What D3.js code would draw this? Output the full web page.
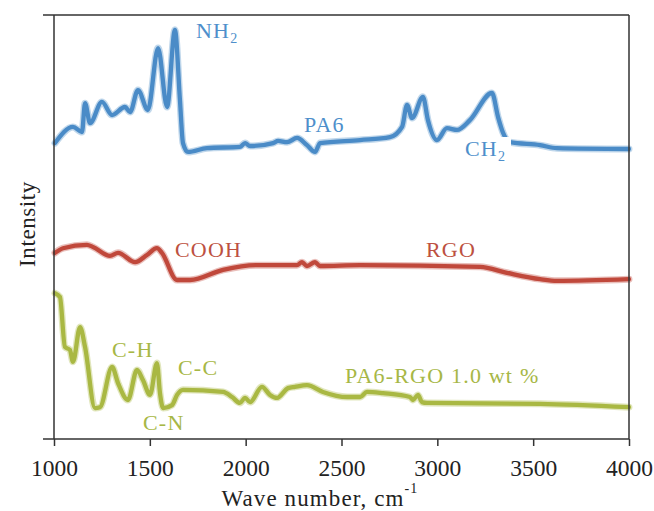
<!DOCTYPE html>
<html>
<head>
<meta charset="utf-8">
<script src="https://cdn.jsdelivr.net/npm/d3@7"></script>
<style>
  html, body { margin: 0; padding: 0; background: #ffffff; }
  svg { display: block; }
  text { font-family: "Liberation Serif", "Times New Roman", serif; }
</style>
</head>
<body>
<svg id="chart" width="654" height="511"></svg>
<script>
// FTIR spectra: wave number (cm^-1) and relative intensity (a.u., offset per trace)
const pa6Wave = [1005, 1099, 1146, 1162, 1188, 1250, 1303, 1370, 1397, 1438, 1490, 1543, 1590, 1631, 1657, 1673, 1699, 1798, 1970, 1997, 2023, 2143, 2169, 2216, 2268, 2320, 2362, 2388, 2597, 2753, 2816, 2842, 2868, 2925, 2951, 2998, 3050, 3103, 3170, 3285, 3317, 3343, 3379, 3536, 3624, 4000];
const pa6Intensity = [69.8, 73.6, 72.4, 79.2, 74.5, 79.5, 76.4, 78.3, 77.1, 82.3, 77.6, 92.2, 78.3, 96.5, 80.0, 69.8, 67.7, 68.6, 68.9, 69.8, 69.1, 69.8, 70.3, 70.0, 71.0, 69.3, 67.7, 69.8, 70.5, 71.2, 73.6, 78.8, 75.7, 80.7, 75.2, 70.5, 73.3, 72.9, 75.2, 81.6, 75.9, 72.2, 70.0, 69.3, 68.6, 68.4];

const rgoWave = [1005, 1047, 1172, 1203, 1292, 1334, 1423, 1485, 1537, 1563, 1642, 1710, 1882, 2059, 2268, 2294, 2320, 2362, 2388, 2597, 3223, 3363, 3536, 3624, 4000];
const rgoIntensity = [43.9, 45.0, 45.8, 45.3, 43.2, 43.9, 41.7, 43.4, 45.0, 43.9, 37.5, 37.5, 39.9, 41.0, 41.0, 41.7, 40.8, 41.7, 40.8, 41.0, 40.6, 39.2, 37.7, 37.3, 37.7];

const compositeWave = [1005, 1031, 1057, 1083, 1099, 1136, 1162, 1214, 1240, 1303, 1334, 1386, 1433, 1464, 1501, 1537, 1553, 1569, 1616, 1642, 1673, 1882, 1929, 1970, 1997, 2023, 2085, 2127, 2164, 2221, 2257, 2320, 2403, 2529, 2597, 2633, 2717, 2857, 2873, 2899, 2920, 2946, 3536, 4000];
const compositeIntensity = [34.4, 33.5, 21.7, 21.0, 18.2, 26.4, 21.7, 7.3, 7.5, 17.0, 13.2, 9.2, 16.3, 13.9, 10.4, 17.9, 10.8, 7.3, 8.0, 10.4, 11.6, 11.1, 9.9, 8.5, 9.7, 8.7, 12.3, 10.4, 9.7, 12.0, 12.3, 12.7, 11.1, 9.9, 9.9, 11.1, 10.8, 9.9, 9.2, 10.4, 8.7, 8.5, 8.3, 7.5];

const xTicks = [1000, 1500, 2000, 2500, 3000, 3500, 4000];

const svg = d3.select("#chart");
const plot = { left: 54, right: 629, top: 15, bottom: 439 };

const x = d3.scaleLinear().domain([1000, 4000]).range([plot.left, plot.right]);
const y = d3.scaleLinear().domain([0, 100]).range([plot.bottom, plot.top]);

const series = [
  { wave: pa6Wave, val: pa6Intensity, color: "#4a8bc7" },
  { wave: rgoWave, val: rgoIntensity, color: "#c0483b" },
  { wave: compositeWave, val: compositeIntensity, color: "#a9b843" }
];

const line = d3.line()
  .x(d => x(d[0]))
  .y(d => y(d[1]))
  .curve(d3.curveMonotoneX);

// Traces: soft halo under a solid core
series.forEach(s => {
  const pts = s.wave.map((w, i) => [w, s.val[i]]);
  svg.append("path")
    .attr("d", line(pts))
    .attr("fill", "none")
    .attr("stroke", s.color)
    .attr("stroke-opacity", 0.35)
    .attr("stroke-width", 7)
    .attr("stroke-linejoin", "round")
    .attr("stroke-linecap", "round");
  svg.append("path")
    .attr("d", line(pts))
    .attr("fill", "none")
    .attr("stroke", s.color)
    .attr("stroke-width", 4.3)
    .attr("stroke-linejoin", "round")
    .attr("stroke-linecap", "round");
});

// Frame and axes
const axisColor = "#333333";
svg.append("line").attr("x1", plot.left - 11).attr("x2", plot.right).attr("y1", plot.top).attr("y2", plot.top)
  .attr("stroke", axisColor).attr("stroke-width", 1.5);
svg.append("line").attr("x1", plot.right).attr("x2", plot.right).attr("y1", plot.top).attr("y2", plot.bottom)
  .attr("stroke", axisColor).attr("stroke-width", 1.5);

const xAxis = svg.append("g")
  .attr("transform", `translate(0,${plot.bottom})`)
  .call(d3.axisBottom(x).tickValues(xTicks).tickFormat(d3.format("d")).tickSize(7).tickSizeOuter(0));
xAxis.select(".domain").remove();
xAxis.append("line").attr("x1", plot.left - 11).attr("x2", plot.right).attr("y1", 0).attr("y2", 0)
  .attr("stroke", axisColor).attr("stroke-width", 1.5);
xAxis.selectAll(".tick line").attr("stroke", axisColor).attr("stroke-width", 1.5);
xAxis.selectAll(".tick text")
  .attr("y", 37).attr("dy", 0)
  .attr("fill", "#222222")
  .style("font-family", "'Liberation Serif', serif")
  .style("font-size", "23.5px");

svg.append("line").attr("x1", plot.left).attr("x2", plot.left).attr("y1", plot.top).attr("y2", plot.bottom)
  .attr("stroke", axisColor).attr("stroke-width", 1.5);

// Axis titles
const xTitle = svg.append("text")
  .attr("x", 320).attr("y", 506)
  .attr("text-anchor", "middle")
  .attr("fill", "#222222")
  .style("font-size", "23px")
  .style("letter-spacing", "1.1px");
xTitle.append("tspan").text("Wave number, cm");
xTitle.append("tspan").attr("dy", -13).style("font-size", "14px").text("-1");

svg.append("text")
  .attr("transform", "translate(35,224) rotate(-90)")
  .attr("text-anchor", "middle")
  .attr("fill", "#222222")
  .style("font-size", "23px")
  .style("letter-spacing", "0.6px")
  .text("Intensity");

// Peak and trace annotations
const blueText = "#4e8fcb", redText = "#bd5141", greenText = "#a7b746";
function label(txt, xPos, yPos, color, sub) {
  const t = svg.append("text")
    .attr("x", xPos).attr("y", yPos)
    .attr("fill", color)
    .style("font-size", "22px")
    .style("letter-spacing", "1.2px");
  t.append("tspan").text(txt);
  if (sub) t.append("tspan").attr("dy", 5).style("font-size", "14px").text(sub);
  return t;
}

label("NH", 196, 38, blueText, "2");
label("PA6", 304, 132, blueText);
svg.append("rect").attr("x", 465).attr("y", 137).attr("width", 46).attr("height", 26).attr("fill", "#ffffff");
label("CH", 465, 156, blueText, "2");
label("COOH", 175, 257, redText);
label("RGO", 426, 257, redText);
label("C-H", 112, 357, greenText);
label("C-C", 178, 375, greenText);
label("C-N", 143, 430, greenText);
label("PA6-RGO 1.0 wt %", 345, 383, greenText);
</script>
</body>
</html>
